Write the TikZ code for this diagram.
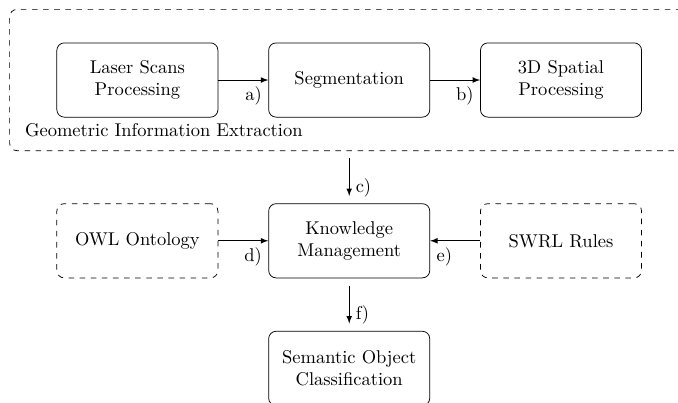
\documentclass[tikz,border=0pt]{standalone}
\usetikzlibrary{positioning,fit}

\begin{document}
\begin{tikzpicture}[
    block/.style={draw, rounded corners, minimum width=3.06cm, minimum height=1.41cm, align=center},
    extblock/.style={block, dashed},
    vlink/.style={->, shorten <=4pt, shorten >=4pt},
    >=latex,
    node distance=0.95cm
  ]
  \useasboundingbox (-2.61,-6.12) rectangle (10.27,1.52);

  % geometric part
  \node[block] (laser) at (0,0) {Laser Scans\\Processing};
  \node[block, right=of laser] (seg) {Segmentation};
  \node[block, right=of seg] (spatial) {3D Spatial\\Processing};
  \node[draw, dashed, rounded corners, fit=(laser)(spatial), inner xsep=0.89cm, inner ysep=0.63cm] (geo) {};
  \node[above right] (geolbl) at ([shift={(5pt,4pt)}]geo.south west) {Geometric Information Extraction};

  % knowledge part
  \node[block, below=1.63cm of seg] (km) {Knowledge\\Management};
  \node[extblock, left=of km] (owl) {OWL Ontology};
  \node[extblock, right=of km] (swrl) {SWRL Rules};
  \node[block, below=1.0cm of km] (sem) {Semantic Object\\Classification};

  \draw[->] (laser) -- node[pos=1, below left] {a)} (seg);
  \draw[->] (seg) -- node[pos=1, below left] {b)} (spatial);
  \draw[vlink] (geo) -- node[pos=1, above right] {c)} (km);
  \draw[->] (owl) -- node[pos=1, below left] {d)} (km);
  \draw[->] (swrl) -- node[pos=1, below right] {e)} (km);
  \draw[vlink] (km) -- node[pos=1, above right] {f)} (sem);
\end{tikzpicture}
\end{document}
